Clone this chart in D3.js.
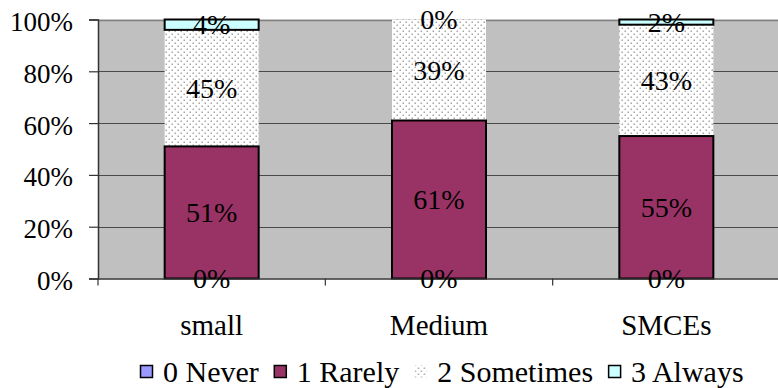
<!DOCTYPE html>
<html>
<head>
<meta charset="utf-8">
<script src="https://cdn.jsdelivr.net/npm/d3@7"></script>
</head>
<body style="margin:0;padding:0;background:#fff;">
<svg id="chart" width="778" height="388" style="display:block"></svg>
<script>
const categories = ["small", "Medium", "SMCEs"];
const seriesNames = ["0 Never", "1 Rarely", "2 Sometimes", "3 Always"];
const neverVals = [0, 0, 0];
const rarelyVals = [51, 61, 55];
const sometimesVals = [45, 39, 43];
const alwaysVals = [4, 0, 2];
const yTicks = [0, 20, 40, 60, 80, 100];

const FONT = '"Liberation Serif"';
const svg = d3.select("#chart");
const plot = {left: 98, right: 780, top: 19.5, bottom: 278.5};

const defs = svg.append("defs");
const pat = defs.append("pattern").attr("id", "dots").attr("patternUnits", "userSpaceOnUse")
  .attr("width", 6).attr("height", 6);
pat.append("rect").attr("width", 6).attr("height", 6).attr("fill", "#fff");
pat.append("rect").attr("x", 0.5).attr("y", 0.5).attr("width", 1.5).attr("height", 1.5).attr("fill", "#a8a8a8");
pat.append("rect").attr("x", 3.5).attr("y", 3.5).attr("width", 1.5).attr("height", 1.5).attr("fill", "#a8a8a8");

const fills = ["#9999FF", "#993366", "url(#dots)", "#CCFFFF"];
const strokes = ["#000", "#000", "none", "#000"];

const x = d3.scaleBand().domain(categories).range([plot.left, plot.right]).paddingInner(0).paddingOuter(0);
const y = d3.scaleLinear().domain([0, 100]).range([plot.bottom, plot.top]);
const barW = 94;

svg.append("rect").attr("x", plot.left).attr("y", plot.top)
  .attr("width", plot.right - plot.left).attr("height", plot.bottom - plot.top).attr("fill", "#C0C0C0");

svg.append("g").selectAll("line").data(yTicks.filter(d => d > 0)).join("line")
  .attr("x1", plot.left).attr("x2", plot.right)
  .attr("y1", d => Math.round(y(d)) + 0.5).attr("y2", d => Math.round(y(d)) + 0.5)
  .attr("stroke", d => d === 100 ? "#808080" : "#4a4a4a").attr("stroke-width", d => d === 100 ? 1.5 : 1.2);

const rows = categories.map((c, i) => ({cat: c, v: [neverVals[i], rarelyVals[i], sometimesVals[i], alwaysVals[i]]}));
const segs = [];
rows.forEach(r => {
  let acc = 0;
  r.v.forEach((v, k) => {
    segs.push({cat: r.cat, k, y0: acc, y1: acc + v, v});
    acc += v;
  });
});

const gBars = svg.append("g");
[2, 0, 1, 3].forEach(k => {
  gBars.selectAll("rect.s" + k).data(segs.filter(s => s.k === k && s.v > 0)).join("rect")
    .attr("class", "s" + k)
    .attr("x", d => x(d.cat) + x.bandwidth() / 2 - barW / 2)
    .attr("width", barW)
    .attr("y", d => y(d.y1))
    .attr("height", d => y(d.y0) - y(d.y1))
    .attr("fill", fills[k])
    .attr("stroke", strokes[k]).attr("stroke-width", 2);
});

const yAxis = d3.axisLeft(y).tickValues(yTicks).tickSize(9).tickFormat(d => d + "%");
const gy = svg.append("g").attr("transform", `translate(${plot.left},0)`).call(yAxis);
gy.select(".domain").attr("stroke", "#333").attr("stroke-width", 1.5);
gy.selectAll(".tick line").attr("stroke", "#333").attr("stroke-width", 1.2);
gy.selectAll(".tick text").attr("x", -25).attr("dy", "0").attr("y", 11)
  .style("font-family", FONT).style("font-size", "27px").attr("fill", "#000");

const xAxis = d3.axisBottom(x).tickSize(0).tickFormat(d => d);
const gx = svg.append("g").attr("transform", `translate(0,${plot.bottom})`).call(xAxis);
gx.select(".domain").attr("stroke", "#333").attr("stroke-width", 1.5);
gx.selectAll(".tick text").attr("y", 335 - plot.bottom).attr("dy", "0")
  .style("font-family", FONT).style("font-size", "29px").attr("fill", "#000");
const bounds = [plot.left].concat(categories.map(c => x(c) + x.bandwidth()));
svg.append("g").selectAll("line").data(bounds).join("line")
  .attr("x1", d => d).attr("x2", d => d).attr("y1", plot.bottom).attr("y2", plot.bottom + 7)
  .attr("stroke", "#333").attr("stroke-width", 1.2);

svg.append("g").selectAll("text").data(segs).join("text")
  .attr("x", d => x(d.cat) + x.bandwidth() / 2)
  .attr("y", d => (y(d.y0) + y(d.y1)) / 2 + 9.5)
  .attr("text-anchor", "middle")
  .style("font-family", FONT).style("font-size", "28px").attr("fill", "#000")
  .text(d => d.v + "%");

const lg = svg.append("g");
const items = lg.selectAll("g").data(seriesNames).join("g");
items.append("rect").attr("width", 12).attr("height", 12).attr("y", -16.5).attr("x", 0.5)
  .attr("fill", (d, i) => fills[i]).attr("stroke", (d, i) => i === 2 ? "none" : "#000").attr("stroke-width", 1.5);
items.append("text").attr("x", 23).attr("y", 0)
  .style("font-family", FONT).style("font-size", "30px").attr("fill", "#000").text(d => d);
let cx = 140;
items.each(function () {
  const g = d3.select(this);
  g.attr("transform", `translate(${cx},382)`);
  cx += 23 + g.select("text").node().getComputedTextLength() + 15;
});
</script>
</body>
</html>
